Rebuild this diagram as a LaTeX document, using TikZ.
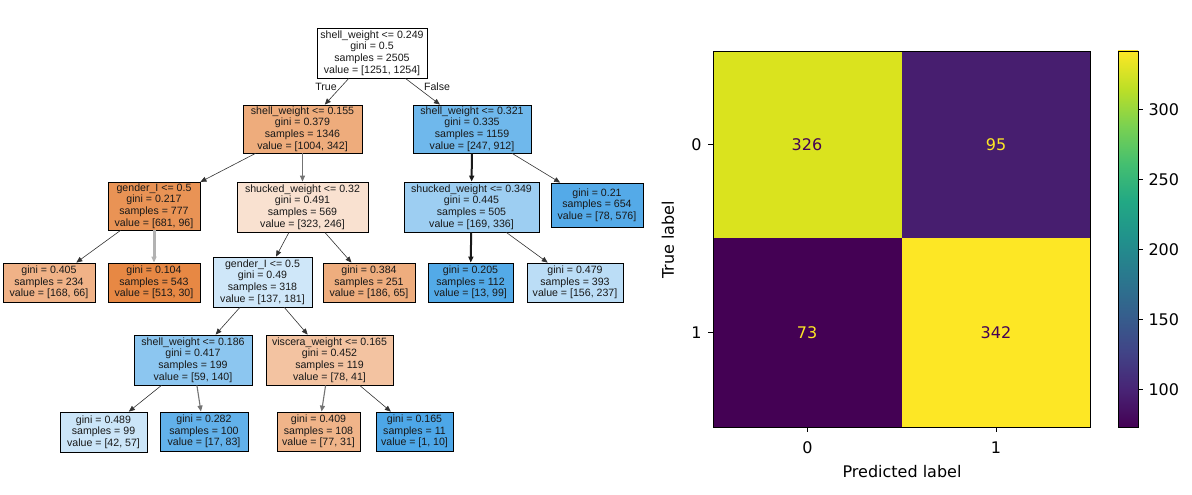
\documentclass[tikz,border=0pt]{standalone}
\usepackage{fontspec}
\setmainfont{Liberation Sans}
\newfontfamily\plotfont{DejaVu Sans}
\usetikzlibrary{arrows.meta}

% sklearn node colours (orange = class 0, blue = class 1)
\definecolor{cn0}{RGB}{255,255,255}
\definecolor{cn1}{RGB}{238,172,124}
\definecolor{cn2}{RGB}{111,184,236}
\definecolor{cn3}{RGB}{233,147,85}
\definecolor{cn4}{RGB}{249,225,208}
\definecolor{cn5}{RGB}{157,206,242}
\definecolor{cn6}{RGB}{84,170,232}
\definecolor{cn7}{RGB}{240,178,135}
\definecolor{cn8}{RGB}{231,136,68}
\definecolor{cn9}{RGB}{207,231,249}
\definecolor{cn10}{RGB}{238,173,126}
\definecolor{cn11}{RGB}{83,170,232}
\definecolor{cn12}{RGB}{187,221,246}
\definecolor{cn13}{RGB}{140,198,240}
\definecolor{cn14}{RGB}{243,195,161}
\definecolor{cn15}{RGB}{203,229,248}
\definecolor{cn16}{RGB}{98,177,234}
\definecolor{cn17}{RGB}{240,180,137}
\definecolor{cn18}{RGB}{77,167,232}

% viridis cell colours
\definecolor{vmin}{RGB}{68,1,84}
\definecolor{vmax}{RGB}{253,231,37}
\definecolor{vhi}{RGB}{218,227,30}
\definecolor{vlo}{RGB}{71,30,111}

\pgfdeclareverticalshading{viridisbar}{100bp}{
 rgb(0bp)=(0.267,0.004,0.329);
 rgb(25bp)=(0.267,0.004,0.329);
 rgb(30bp)=(0.282,0.141,0.459);
 rgb(35bp)=(0.255,0.267,0.529);
 rgb(40bp)=(0.208,0.373,0.553);
 rgb(45bp)=(0.165,0.471,0.557);
 rgb(50bp)=(0.129,0.569,0.549);
 rgb(55bp)=(0.133,0.659,0.518);
 rgb(60bp)=(0.267,0.749,0.439);
 rgb(65bp)=(0.478,0.820,0.318);
 rgb(70bp)=(0.741,0.875,0.149);
 rgb(75bp)=(0.992,0.906,0.145);
 rgb(100bp)=(0.992,0.906,0.145)}

\tikzset{
  tnode/.style={draw=black, line width=0.8pt, align=center, inner sep=0pt,
    font=\fontsize{10.6}{11.6}\selectfont, text=black!90},
  edge/.style={draw=black!80, line width=0.6pt, -{Triangle[length=6pt,width=5pt]}},
  heavy/.style={line width=2pt, draw=black!90},
  pale/.style={line width=3pt, draw=black!30},
  mid/.style={line width=1.1pt, draw=black!55},
  brlabel/.style={font=\fontsize{10.6}{11.6}\selectfont, text=black!90},
  plottext/.style={font=\plotfont\fontsize{16}{19}\selectfont},
  tick/.style={line width=0.8pt, draw=black}
}

\begin{document}
\begin{tikzpicture}[x=1pt,y=-1pt]
\useasboundingbox (0,0) rectangle (1192,495);

% ---------------- decision tree ----------------
\node[tnode, fill=cn0, minimum width=110pt, minimum height=50pt] (n0) at (372,53)
  {shell\_weight <= 0.249\\gini = 0.5\\samples = 2505\\value = [1251, 1254]};
\node[tnode, fill=cn1, minimum width=119pt, minimum height=48pt] (n1) at (302.5,129)
  {shell\_weight <= 0.155\\gini = 0.379\\samples = 1346\\value = [1004, 342]};
\node[tnode, fill=cn2, minimum width=118pt, minimum height=48pt] (n2) at (472,129)
  {shell\_weight <= 0.321\\gini = 0.335\\samples = 1159\\value = [247, 912]};
\node[tnode, fill=cn3, minimum width=92pt, minimum height=48pt] (n3) at (154,206)
  {gender\_I <= 0.5\\gini = 0.217\\samples = 777\\value = [681, 96]};
\node[tnode, fill=cn4, minimum width=131pt, minimum height=50pt] (n4) at (302.5,207)
  {shucked\_weight <= 0.32\\gini = 0.491\\samples = 569\\value = [323, 246]};
\node[tnode, fill=cn5, minimum width=135pt, minimum height=50pt] (n5) at (471.5,207)
  {shucked\_weight <= 0.349\\gini = 0.445\\samples = 505\\value = [169, 336]};
\node[tnode, fill=cn6, minimum width=92pt, minimum height=44pt] (n6) at (597,205)
  {gini = 0.21\\samples = 654\\value = [78, 576]};
\node[tnode, fill=cn7, minimum width=92pt, minimum height=39pt] (n7) at (49,282.5)
  {gini = 0.405\\samples = 234\\value = [168, 66]};
\node[tnode, fill=cn8, minimum width=92pt, minimum height=39pt] (n8) at (154,282.5)
  {gini = 0.104\\samples = 543\\value = [513, 30]};
\node[tnode, fill=cn9, minimum width=99pt, minimum height=50pt] (n9) at (262.5,282)
  {gender\_I <= 0.5\\gini = 0.49\\samples = 318\\value = [137, 181]};
\node[tnode, fill=cn10, minimum width=92pt, minimum height=39pt] (n10) at (369,282.5)
  {gini = 0.384\\samples = 251\\value = [186, 65]};
\node[tnode, fill=cn11, minimum width=85pt, minimum height=39pt] (n11) at (470.5,282.5)
  {gini = 0.205\\samples = 112\\value = [13, 99]};
\node[tnode, fill=cn12, minimum width=96pt, minimum height=39pt] (n12) at (575,282.5)
  {gini = 0.479\\samples = 393\\value = [156, 237]};
\node[tnode, fill=cn13, minimum width=118pt, minimum height=50pt] (n13) at (193,360)
  {shell\_weight <= 0.186\\gini = 0.417\\samples = 199\\value = [59, 140]};
\node[tnode, fill=cn14, minimum width=127pt, minimum height=50pt] (n14) at (329.5,360)
  {viscera\_weight <= 0.165\\gini = 0.452\\samples = 119\\value = [78, 41]};
\node[tnode, fill=cn15, minimum width=87pt, minimum height=40pt] (n15) at (103.5,432)
  {gini = 0.489\\samples = 99\\value = [42, 57]};
\node[tnode, fill=cn16, minimum width=88pt, minimum height=39pt] (n16) at (204,431.5)
  {gini = 0.282\\samples = 100\\value = [17, 83]};
\node[tnode, fill=cn17, minimum width=83pt, minimum height=39pt] (n17) at (318.5,431.5)
  {gini = 0.409\\samples = 108\\value = [77, 31]};
\node[tnode, fill=cn18, minimum width=77pt, minimum height=39pt] (n18) at (414.5,431.5)
  {gini = 0.165\\samples = 11\\value = [1, 10]};

% branches
\draw[edge] (n0) -- (n1);
\draw[edge] (n0) -- (n2);
\draw[edge] (n1) -- (n3);
\draw[edge, mid] (n1) -- (n4);
\draw[edge, heavy] (n2) -- (n5);
\draw[edge] (n2) -- (n6);
\draw[edge] (n3) -- (n7);
\draw[edge, pale] (n3) -- (n8);
\draw[edge] (n4) -- (n9);
\draw[edge] (n4) -- (n10);
\draw[edge, heavy] (n5) -- (n11);
\draw[edge] (n5) -- (n12);
\draw[edge] (n9) -- (n13);
\draw[edge] (n9) -- (n14);
\draw[edge] (n13) -- (n15);
\draw[edge, mid] (n13) -- (n16);
\draw[edge, mid] (n14) -- (n17);
\draw[edge] (n14) -- (n18);

\node[brlabel] (ltrue) at (326,87) {True};
\node[brlabel] (lfalse) at (437,87) {False};

% ---------------- confusion matrix ----------------
\fill[vhi] (713,51) rectangle (902,238);
\fill[vlo] (902,51) rectangle (1090,238);
\fill[vmin] (713,238) rectangle (902,427);
\fill[vmax] (902,238) rectangle (1090,427);
\draw[line width=0.8pt] (713,51) rectangle (1090,427);

\node[plottext, text=vmin] (c00) at (807,145) {326};
\node[plottext, text=vmax] (c01) at (996,145) {95};
\node[plottext, text=vmax] (c10) at (807,333) {73};
\node[plottext, text=vmin] (c11) at (996,333) {342};

% axis ticks and labels
\draw[tick] (713,144.5) -- (708,144.5);
\draw[tick] (713,332.5) -- (708,332.5);
\draw[tick] (807.5,427) -- (807.5,432);
\draw[tick] (996,427) -- (996,432);
\node[plottext, anchor=east] (yt0) at (705,145) {0};
\node[plottext, anchor=east] (yt1) at (705,333) {1};
\node[plottext] (xt0) at (807.5,448) {0};
\node[plottext] (xt1) at (996,448) {1};
\node[plottext, rotate=90] (ylab) at (668,240) {True label};
\node[plottext] (xlab) at (902,472) {Predicted label};

% ---------------- colour bar ----------------
\shade[shading=viridisbar] (1118,51) rectangle (1138,427);
\draw[line width=0.8pt] (1118,51) rectangle (1138,427);
\foreach \v/\y in {300/109.7, 250/179.6, 200/249.5, 150/319.4, 100/389.3}{
  \draw[tick] (1138,\y) -- (1143,\y);
  \node[plottext, anchor=west] at (1145,\y) {\v};
}
\end{tikzpicture}
\end{document}
